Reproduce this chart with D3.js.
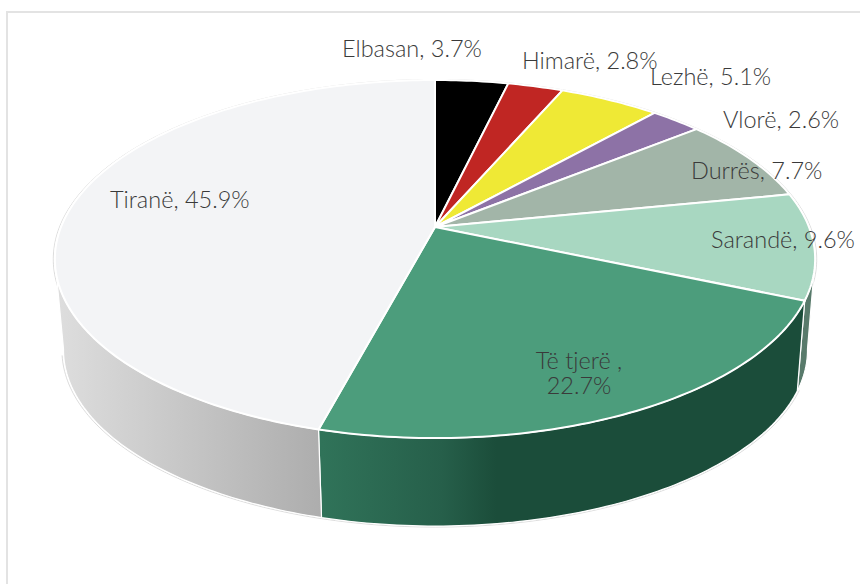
<!DOCTYPE html>
<html><head><meta charset="utf-8">
<script src="https://cdn.jsdelivr.net/npm/d3@7/dist/d3.min.js"></script>
<style>html,body{margin:0;padding:0;background:#fff}svg{display:block}</style>
</head><body><div id="c"></div>
<script>
const categories = ["Elbasan","Himarë","Lezhë","Vlorë","Durrës","Sarandë","Të tjerë","Tiranë"];
const values = [3.7,2.8,5.1,2.6,7.7,9.6,22.7,45.9];
const colors = ["#000000","#c02623","#efe935","#8d72a6","#a2b5a8","#a8d7c1","#4c9d7c","#f3f4f6"];

const W=860,H=584, deg=Math.PI/180;
const svg=d3.select("#c").append("svg").attr("width",W).attr("height",H);
const defs=svg.append("defs");
function grad(id,x1,x2,stops){
  const g=defs.append("linearGradient").attr("id",id).attr("gradientUnits","userSpaceOnUse")
    .attr("x1",x1).attr("x2",x2).attr("y1",0).attr("y2",0);
  stops.forEach(s=>g.append("stop").attr("offset",s[0]).attr("stop-color",s[1]));
}
grad("gGrey",60,322,[[0,"#dddddd"],[1,"#adadad"]]);
grad("gGreen",322,540,[[0,"#307359"],[.55,"#265f4a"],[.8,"#1b4d3a"],[1,"#1b4d3a"]]);

svg.append("path").attr("d",`M${W},12H7V${H}`).attr("fill","none").attr("stroke","#e3e3e3").attr("stroke-width",2);

// perspective projection of the unit disc: k is the foreshortening
const k=.179;
const topDisc={cx:435,cy:227,a:374,b:173.3}, lowDisc={cx:435.5,cy:318.5,a:366,b:170.4};
const project=(d,t,r=1)=>{const u=r*Math.sin(t),v=-r*Math.cos(t),w=1-k*v;return [d.cx+d.a*u/w,d.cy+d.b*v/w];};
const line=d3.line();
const arcPts=(d,t0,t1,r=1)=>{const n=Math.max(2,Math.ceil(Math.abs(t1-t0)/deg));
  return d3.range(n+1).map(i=>project(d,t0+(t1-t0)*i/n,r));};

const slices=d3.pie().sort(null).startAngle(0).endAngle(2*Math.PI)(values);
const by=Object.fromEntries(categories.map((c,i)=>[c,slices[i]]));

// faint outer rims
const rim=svg.append("g").attr("fill","none").attr("stroke","#c4c4c4").attr("stroke-width",.6);
rim.append("path").attr("d",line(arcPts(topDisc,0,2*Math.PI,1.004))+"Z");
rim.append("path").attr("d",line(arcPts(lowDisc,113*deg,258*deg,1.004)));

// visible side walls
const walls=[
  {t0:100*deg,t1:by["Sarandë"].endAngle,fill:"#587a6b"},
  {t0:by["Të tjerë"].startAngle,t1:by["Të tjerë"].endAngle,fill:"url(#gGreen)"},
  {t0:by["Tiranë"].startAngle,t1:260*deg,fill:"url(#gGrey)"}
];
svg.append("g").selectAll("path").data(walls).join("path")
  .attr("d",w=>line(arcPts(topDisc,w.t0,w.t1).concat(arcPts(lowDisc,w.t1,w.t0)))+"Z")
  .attr("fill",w=>w.fill).attr("stroke","#fff").attr("stroke-width",1.2).attr("stroke-linejoin","round");

// top face
svg.append("g").selectAll("path").data(slices).join("path")
  .attr("d",s=>line([[topDisc.cx,topDisc.cy]].concat(arcPts(topDisc,s.startAngle,s.endAngle)))+"Z")
  .attr("fill",(s,i)=>colors[i]).attr("stroke","#fff").attr("stroke-width",2).attr("stroke-linejoin","round");

// data labels
const labelPlace={
 "Elbasan":{x:342,y:57,a:"start"},"Himarë":{x:522,y:69,a:"start"},"Lezhë":{x:650,y:85,a:"start"},
 "Vlorë":{x:723,y:128,a:"start"},"Durrës":{x:691,y:179,a:"start"},"Sarandë":{x:711,y:248,a:"start"},
 "Të tjerë":{x:579,y:369,a:"middle",wrap:true},"Tiranë":{x:110,y:208,a:"start"}
};
const txt=svg.append("g").attr("font-family","Lato, 'Open Sans', sans-serif").attr("font-size",23.5).attr("font-weight",300).attr("fill","#3a3a3a");
categories.forEach((c,i)=>{
  const p=labelPlace[c], t=txt.append("text").attr("x",p.x).attr("y",p.y).attr("text-anchor",p.a);
  if(p.wrap){
    t.append("tspan").attr("x",p.x).text(c+" ,");
    t.append("tspan").attr("x",p.x).attr("dy",25).text(values[i].toFixed(1)+"%");
  } else t.text(`${c}, ${values[i].toFixed(1)}%`);
});
</script></body></html>
